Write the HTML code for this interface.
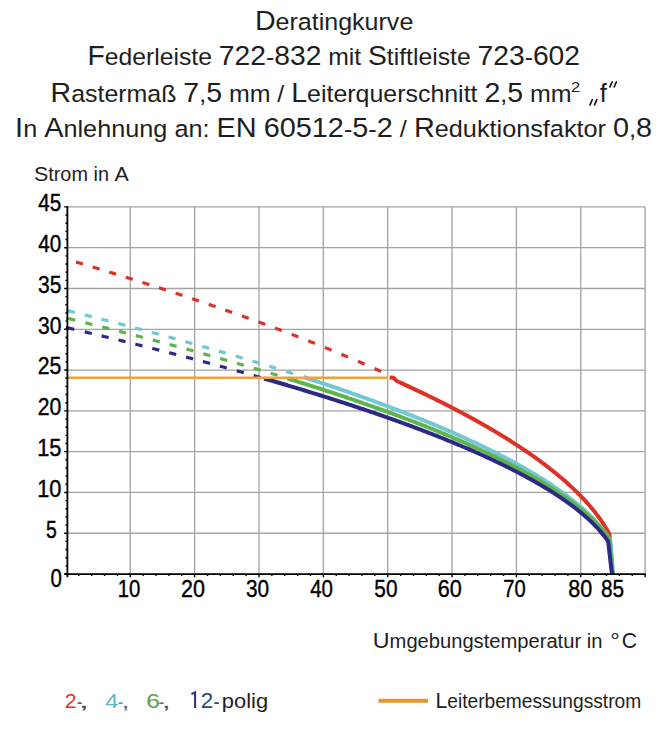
<!DOCTYPE html>
<html><head><meta charset="utf-8"><style>
html,body{margin:0;padding:0;background:#fff;}
svg{display:block;}
text{font-family:"Liberation Sans",sans-serif;fill:#1e1e1e;}
.ax{fill:#000;stroke:#000;stroke-width:0.4px;}
</style></head><body>
<svg width="669" height="740" viewBox="0 0 669 740">
<path d="M130.30,206.89V574.05 M194.65,206.89V574.05 M259.00,206.89V574.05 M323.35,206.89V574.05 M387.70,206.89V574.05 M452.05,206.89V574.05 M516.40,206.89V574.05 M580.75,206.89V574.05 M645.10,206.89V574.05 M67.4,533.25H645.10 M67.4,492.46H645.10 M67.4,451.66H645.10 M67.4,410.87H645.10 M67.4,370.07H645.10 M67.4,329.28H645.10 M67.4,288.48H645.10 M67.4,247.69H645.10 M67.4,206.89H645.10" stroke="#a3a3a3" stroke-width="1.3" fill="none"/>
<path d="M76.10,262.02 L77.25,262.36 L78.40,262.71 L79.55,263.05 L80.70,263.40 L81.85,263.74 L83.00,264.09 M92.68,267.00 L93.83,267.35 L94.98,267.70 L96.13,268.05 L97.28,268.40 L98.43,268.75 L99.58,269.10 M109.26,272.06 L110.41,272.42 L111.56,272.77 L112.71,273.13 L113.86,273.48 L115.01,273.84 L116.16,274.19 M125.84,277.21 L126.99,277.57 L128.14,277.93 L129.29,278.29 L130.44,278.65 L131.59,279.01 L132.74,279.37 M142.42,282.44 L143.57,282.80 L144.72,283.17 L145.87,283.54 L147.02,283.91 L148.17,284.27 L149.32,284.64 M159.00,287.76 L160.14,288.13 L161.28,288.50 L162.43,288.87 L163.57,289.24 L164.71,289.62 L165.85,289.99 M175.58,293.18 L176.72,293.56 L177.86,293.93 L179.01,294.31 L180.15,294.69 L181.29,295.07 L182.43,295.45 M192.16,298.70 L193.30,299.09 L194.44,299.47 L195.59,299.86 L196.73,300.24 L197.87,300.63 L199.01,301.01 M208.74,304.33 L209.88,304.72 L211.02,305.12 L212.17,305.51 L213.31,305.90 L214.45,306.30 L215.59,306.69 M225.32,310.08 L226.45,310.48 L227.59,310.87 L228.72,311.27 L229.85,311.67 L230.99,312.07 L232.12,312.47 M241.90,315.95 L243.03,316.35 L244.17,316.76 L245.30,317.17 L246.43,317.57 L247.57,317.98 L248.70,318.39 M258.48,321.95 L259.61,322.36 L260.75,322.78 L261.88,323.19 L263.01,323.61 L264.15,324.03 L265.28,324.45 M275.06,328.09 L276.19,328.51 L277.31,328.93 L278.44,329.35 L279.56,329.78 L280.69,330.20 L281.81,330.63 M291.64,334.38 L292.77,334.81 L293.89,335.24 L295.02,335.68 L296.14,336.11 L297.27,336.55 L298.39,336.98 M308.22,340.83 L309.34,341.27 L310.45,341.71 L311.57,342.16 L312.69,342.60 L313.80,343.04 L314.92,343.49 M324.80,347.46 L325.92,347.91 L327.03,348.37 L328.15,348.82 L329.27,349.28 L330.38,349.74 L331.50,350.19 M341.38,354.28 L342.49,354.75 L343.60,355.21 L344.71,355.68 L345.81,356.14 L346.92,356.61 L348.03,357.08 M357.96,361.32 L359.07,361.79 L360.18,362.27 L361.29,362.75 L362.39,363.23 L363.50,363.72 L364.61,364.20 M374.54,368.58 L375.64,369.07 L376.74,369.56 L377.84,370.05 L378.94,370.55 L380.04,371.04 L381.14,371.54" stroke="#dc3328" stroke-width="3.2" fill="none"/>
<path d="M389.63,377.42 L393.49,377.83 L396.71,381.00 L397.77,381.48 L398.84,381.96 L399.90,382.44 L400.96,382.93 L402.03,383.41 L403.09,383.90 L404.15,384.39 L405.22,384.88 L406.28,385.37 L407.34,385.86 L408.41,386.35 L409.47,386.84 L410.53,387.34 L411.60,387.84 L412.66,388.33 L413.72,388.83 L414.79,389.33 L415.85,389.83 L416.91,390.33 L417.98,390.84 L419.04,391.34 L420.10,391.85 L421.17,392.36 L422.23,392.86 L423.29,393.37 L424.36,393.89 L425.42,394.40 L426.48,394.91 L427.55,395.43 L428.61,395.94 L429.67,396.46 L430.74,396.98 L431.80,397.50 L432.86,398.02 L433.93,398.55 L434.99,399.07 L436.05,399.60 L437.12,400.13 L438.18,400.66 L439.24,401.19 L440.31,401.72 L441.37,402.25 L442.43,402.79 L443.50,403.32 L444.56,403.86 L445.62,404.40 L446.69,404.94 L447.75,405.49 L448.81,406.03 L449.88,406.58 L450.94,407.12 L452.00,407.67 L453.07,408.23 L454.13,408.78 L455.20,409.33 L456.26,409.89 L457.32,410.45 L458.39,411.01 L459.45,411.57 L460.51,412.13 L461.58,412.70 L462.64,413.26 L463.70,413.83 L464.77,414.40 L465.83,414.97 L466.89,415.55 L467.96,416.12 L469.02,416.70 L470.08,417.28 L471.15,417.86 L472.21,418.45 L473.27,419.03 L474.34,419.62 L475.40,420.21 L476.46,420.80 L477.53,421.40 L478.59,421.99 L479.65,422.59 L480.72,423.19 L481.78,423.79 L482.84,424.40 L483.91,425.00 L484.97,425.61 L486.03,426.23 L487.10,426.84 L488.16,427.46 L489.22,428.07 L490.29,428.70 L491.35,429.32 L492.41,429.94 L493.48,430.57 L494.54,431.20 L495.60,431.84 L496.67,432.47 L497.73,433.11 L498.79,433.75 L499.86,434.40 L500.92,435.04 L501.98,435.69 L503.05,436.34 L504.11,437.00 L505.17,437.66 L506.24,438.32 L507.30,438.98 L508.36,439.65 L509.43,440.32 L510.49,440.99 L511.55,441.67 L512.62,442.34 L513.68,443.03 L514.74,443.71 L515.81,444.40 L516.87,445.09 L517.93,445.79 L519.00,446.49 L520.06,447.19 L521.12,447.89 L522.19,448.60 L523.25,449.32 L524.32,450.03 L525.38,450.75 L526.44,451.48 L527.51,452.21 L528.57,452.94 L529.63,453.68 L530.70,454.42 L531.76,455.16 L532.82,455.91 L533.89,456.66 L534.95,457.42 L536.01,458.18 L537.08,458.95 L538.14,459.72 L539.20,460.50 L540.27,461.28 L541.33,462.07 L542.39,462.86 L543.46,463.65 L544.52,464.46 L545.58,465.26 L546.65,466.08 L547.71,466.89 L548.77,467.72 L549.84,468.55 L550.90,469.38 L551.96,470.22 L553.03,471.07 L554.09,471.93 L555.15,472.79 L556.22,473.65 L557.28,474.53 L558.34,475.41 L559.41,476.30 L560.47,477.19 L561.53,478.10 L562.60,479.01 L563.66,479.93 L564.72,480.86 L565.79,481.79 L566.85,482.74 L567.91,483.69 L568.98,484.66 L570.04,485.63 L571.10,486.61 L572.17,487.60 L573.23,488.61 L574.29,489.62 L575.36,490.65 L576.42,491.68 L577.48,492.73 L578.55,493.79 L579.61,494.87 L580.67,495.95 L581.74,497.06 L582.80,498.17 L583.86,499.30 L584.93,500.45 L585.99,501.61 L587.05,502.79 L588.12,503.99 L589.18,505.21 L590.24,506.45 L591.31,507.71 L592.37,508.99 L593.43,510.29 L594.50,511.62 L595.56,512.97 L596.63,514.36 L597.69,515.77 L598.75,517.21 L599.82,518.69 L600.88,520.21 L601.94,521.76 L603.01,523.36 L604.07,525.01 L605.13,526.70 L606.20,528.46 L607.26,530.28 L608.32,532.16 L609.39,534.14 L612.28,574.05" stroke="#dc3328" stroke-width="4" fill="none" stroke-linejoin="round"/>
<path d="M66.30,310.29 L67.73,310.65 L69.17,311.00 L70.60,311.36 L72.03,311.72 L73.47,312.08 L74.90,312.44 M84.70,314.90 L85.87,315.20 L87.03,315.49 L88.20,315.79 L89.37,316.08 L90.53,316.38 L91.70,316.68 M101.48,319.17 L102.65,319.47 L103.81,319.77 L104.98,320.07 L106.15,320.37 L107.31,320.67 L108.48,320.97 M118.26,323.51 L119.43,323.81 L120.59,324.12 L121.76,324.42 L122.93,324.73 L124.09,325.03 L125.26,325.34 M135.04,327.92 L136.21,328.23 L137.37,328.54 L138.54,328.85 L139.71,329.16 L140.87,329.47 L142.04,329.78 M151.82,332.40 L152.99,332.71 L154.15,333.03 L155.32,333.34 L156.49,333.66 L157.65,333.97 L158.82,334.29 M168.60,336.95 L169.76,337.27 L170.92,337.59 L172.08,337.91 L173.23,338.23 L174.39,338.55 L175.55,338.87 M185.38,341.59 L186.54,341.92 L187.70,342.24 L188.86,342.56 L190.01,342.89 L191.17,343.21 L192.33,343.54 M202.16,346.32 L203.32,346.65 L204.48,346.98 L205.64,347.31 L206.79,347.64 L207.95,347.97 L209.11,348.30 M218.94,351.13 L220.10,351.47 L221.26,351.80 L222.42,352.14 L223.57,352.48 L224.73,352.82 L225.89,353.16 M235.72,356.04 L236.88,356.39 L238.04,356.73 L239.20,357.07 L240.35,357.42 L241.51,357.76 L242.67,358.11 M252.50,361.06 L253.65,361.41 L254.80,361.76 L255.95,362.11 L257.10,362.45 L258.25,362.80 L259.40,363.15 M269.28,366.19 L270.43,366.54 L271.58,366.90 L272.73,367.25 L273.88,367.61 L275.03,367.97 L276.18,368.33 M286.06,371.43 L287.21,371.79 L288.36,372.16 L289.51,372.52 L290.66,372.89 L291.81,373.26 L292.96,373.62" stroke="#72c8d3" stroke-width="3.2" fill="none"/>
<path d="M303.40,376.98 L304.94,377.48 L306.47,377.98 L308.01,378.48 L309.54,378.98 L311.08,379.48 L312.61,379.99 L314.14,380.49 L315.68,381.00 L317.21,381.51 L318.75,382.02 L320.28,382.53 L321.82,383.04 L323.35,383.55 L324.89,384.07 L326.42,384.58 L327.96,385.10 L329.49,385.62 L331.03,386.13 L332.56,386.66 L334.10,387.18 L335.63,387.70 L337.17,388.22 L338.70,388.75 L340.24,389.28 L341.77,389.81 L343.30,390.34 L344.84,390.87 L346.37,391.40 L347.91,391.93 L349.44,392.47 L350.98,393.01 L352.51,393.54 L354.05,394.08 L355.58,394.63 L357.12,395.17 L358.65,395.71 L360.19,396.26 L361.72,396.81 L363.26,397.36 L364.79,397.91 L366.33,398.46 L367.86,399.01 L369.40,399.57 L370.93,400.12 L372.47,400.68 L374.00,401.24 L375.53,401.81 L377.07,402.37 L378.60,402.93 L380.14,403.50 L381.67,404.07 L383.21,404.64 L384.74,405.21 L386.28,405.79 L387.81,406.36 L389.35,406.94 L390.88,407.52 L392.42,408.10 L393.95,408.68 L395.49,409.27 L397.02,409.86 L398.56,410.44 L400.09,411.03 L401.63,411.63 L403.16,412.22 L404.69,412.82 L406.23,413.42 L407.76,414.02 L409.30,414.62 L410.83,415.23 L412.37,415.83 L413.90,416.44 L415.44,417.05 L416.97,417.67 L418.51,418.28 L420.04,418.90 L421.58,419.52 L423.11,420.14 L424.65,420.77 L426.18,421.39 L427.72,422.02 L429.25,422.66 L430.79,423.29 L432.32,423.93 L433.86,424.57 L435.39,425.21 L436.92,425.85 L438.46,426.50 L439.99,427.15 L441.53,427.80 L443.06,428.45 L444.60,429.11 L446.13,429.77 L447.67,430.43 L449.20,431.10 L450.74,431.77 L452.27,432.44 L453.81,433.11 L455.34,433.79 L456.88,434.47 L458.41,435.15 L459.95,435.84 L461.48,436.53 L463.02,437.22 L464.55,437.92 L466.08,438.62 L467.62,439.32 L469.15,440.03 L470.69,440.73 L472.22,441.45 L473.76,442.16 L475.29,442.88 L476.83,443.61 L478.36,444.33 L479.90,445.06 L481.43,445.80 L482.97,446.54 L484.50,447.28 L486.04,448.03 L487.57,448.78 L489.11,449.53 L490.64,450.29 L492.18,451.05 L493.71,451.82 L495.24,452.59 L496.78,453.37 L498.31,454.15 L499.85,454.93 L501.38,455.72 L502.92,456.52 L504.45,457.32 L505.99,458.12 L507.52,458.93 L509.06,459.75 L510.59,460.57 L512.13,461.39 L513.66,462.23 L515.20,463.06 L516.73,463.91 L518.27,464.76 L519.80,465.61 L521.34,466.47 L522.87,467.34 L524.41,468.21 L525.94,469.09 L527.47,469.98 L529.01,470.88 L530.54,471.78 L532.08,472.69 L533.61,473.60 L535.15,474.53 L536.68,475.46 L538.22,476.40 L539.75,477.35 L541.29,478.31 L542.82,479.27 L544.36,480.25 L545.89,481.23 L547.43,482.22 L548.96,483.23 L550.50,484.24 L552.03,485.27 L553.57,486.30 L555.10,487.35 L556.63,488.41 L558.17,489.48 L559.70,490.56 L561.24,491.66 L562.77,492.77 L564.31,493.89 L565.84,495.03 L567.38,496.18 L568.91,497.35 L570.45,498.53 L571.98,499.74 L573.52,500.96 L575.05,502.20 L576.59,503.45 L578.12,504.73 L579.66,506.04 L581.19,507.36 L582.73,508.71 L584.26,510.09 L585.80,511.49 L587.33,512.92 L588.86,514.39 L590.40,515.88 L591.93,517.42 L593.47,518.99 L595.00,520.60 L596.54,522.26 L598.07,523.97 L599.61,525.73 L601.14,527.56 L602.68,529.45 L604.21,531.42 L605.75,533.48 L607.28,535.64 L608.82,537.91 L610.35,540.32 L613.25,574.05" stroke="#72c8d3" stroke-width="4" fill="none" stroke-linejoin="round"/>
<path d="M66.30,318.09 L67.78,318.45 L69.27,318.81 L70.75,319.17 L72.23,319.54 L73.72,319.90 L75.20,320.27 M85.40,322.78 L86.57,323.07 L87.73,323.36 L88.90,323.65 L90.07,323.94 L91.23,324.23 L92.40,324.52 M102.24,326.99 L103.41,327.28 L104.57,327.58 L105.74,327.87 L106.91,328.17 L108.07,328.46 L109.24,328.76 M119.08,331.26 L120.25,331.56 L121.41,331.86 L122.58,332.16 L123.75,332.46 L124.91,332.76 L126.08,333.06 M135.92,335.60 L137.09,335.90 L138.25,336.21 L139.42,336.51 L140.59,336.81 L141.75,337.12 L142.92,337.42 M152.76,340.01 L153.93,340.32 L155.09,340.62 L156.26,340.93 L157.43,341.24 L158.59,341.55 L159.76,341.86 M169.60,344.49 L170.77,344.81 L171.93,345.12 L173.10,345.43 L174.27,345.75 L175.43,346.06 L176.60,346.38 M186.44,349.06 L187.60,349.37 L188.76,349.69 L189.92,350.01 L191.07,350.33 L192.23,350.64 L193.39,350.96 M203.28,353.70 L204.44,354.03 L205.60,354.35 L206.76,354.67 L207.91,355.00 L209.07,355.32 L210.23,355.65 M220.12,358.44 L221.28,358.77 L222.44,359.10 L223.60,359.43 L224.75,359.76 L225.91,360.09 L227.07,360.42 M236.96,363.27 L238.12,363.60 L239.28,363.94 L240.44,364.28 L241.59,364.61 L242.75,364.95 L243.91,365.29 M253.80,368.20 L254.96,368.54 L256.12,368.88 L257.28,369.23 L258.43,369.57 L259.59,369.92 L260.75,370.26 M270.64,373.23 L271.79,373.58 L272.94,373.93 L274.09,374.28 L275.24,374.63 L276.39,374.98 L277.54,375.33 M287.48,378.38 L288.63,378.74 L289.78,379.10 L290.93,379.45 L292.08,379.81 L293.23,380.17 L294.38,380.53" stroke="#5fb44e" stroke-width="3.2" fill="none"/>
<path d="M287.96,378.53 L289.56,379.03 L291.17,379.53 L292.78,380.03 L294.39,380.53 L295.99,381.03 L297.60,381.54 L299.21,382.04 L300.81,382.55 L302.42,383.06 L304.03,383.56 L305.64,384.07 L307.24,384.58 L308.85,385.10 L310.46,385.61 L312.06,386.13 L313.67,386.64 L315.28,387.16 L316.89,387.68 L318.49,388.20 L320.10,388.72 L321.71,389.24 L323.31,389.76 L324.92,390.29 L326.53,390.82 L328.14,391.34 L329.74,391.87 L331.35,392.40 L332.96,392.93 L334.56,393.47 L336.17,394.00 L337.78,394.54 L339.39,395.08 L340.99,395.61 L342.60,396.15 L344.21,396.70 L345.81,397.24 L347.42,397.78 L349.03,398.33 L350.64,398.88 L352.24,399.43 L353.85,399.98 L355.46,400.53 L357.06,401.08 L358.67,401.64 L360.28,402.20 L361.89,402.76 L363.49,403.32 L365.10,403.88 L366.71,404.44 L368.31,405.01 L369.92,405.57 L371.53,406.14 L373.14,406.71 L374.74,407.28 L376.35,407.86 L377.96,408.43 L379.56,409.01 L381.17,409.59 L382.78,410.17 L384.39,410.75 L385.99,411.34 L387.60,411.92 L389.21,412.51 L390.81,413.10 L392.42,413.70 L394.03,414.29 L395.64,414.89 L397.24,415.48 L398.85,416.08 L400.46,416.69 L402.06,417.29 L403.67,417.90 L405.28,418.50 L406.89,419.11 L408.49,419.73 L410.10,420.34 L411.71,420.96 L413.31,421.58 L414.92,422.20 L416.53,422.82 L418.14,423.45 L419.74,424.08 L421.35,424.71 L422.96,425.34 L424.56,425.98 L426.17,426.61 L427.78,427.25 L429.39,427.90 L430.99,428.54 L432.60,429.19 L434.21,429.84 L435.81,430.49 L437.42,431.15 L439.03,431.81 L440.64,432.47 L442.24,433.13 L443.85,433.80 L445.46,434.47 L447.06,435.14 L448.67,435.81 L450.28,436.49 L451.89,437.17 L453.49,437.86 L455.10,438.54 L456.71,439.23 L458.31,439.93 L459.92,440.62 L461.53,441.32 L463.14,442.03 L464.74,442.73 L466.35,443.44 L467.96,444.15 L469.56,444.87 L471.17,445.59 L472.78,446.31 L474.39,447.04 L475.99,447.77 L477.60,448.51 L479.21,449.25 L480.81,449.99 L482.42,450.74 L484.03,451.49 L485.64,452.24 L487.24,453.00 L488.85,453.76 L490.46,454.53 L492.06,455.30 L493.67,456.08 L495.28,456.86 L496.89,457.64 L498.49,458.43 L500.10,459.23 L501.71,460.03 L503.31,460.83 L504.92,461.64 L506.53,462.46 L508.14,463.28 L509.74,464.10 L511.35,464.94 L512.96,465.77 L514.56,466.62 L516.17,467.46 L517.78,468.32 L519.39,469.18 L520.99,470.05 L522.60,470.92 L524.21,471.80 L525.81,472.69 L527.42,473.58 L529.03,474.48 L530.64,475.39 L532.24,476.31 L533.85,477.23 L535.46,478.16 L537.06,479.10 L538.67,480.05 L540.28,481.00 L541.89,481.97 L543.49,482.94 L545.10,483.93 L546.71,484.92 L548.31,485.92 L549.92,486.94 L551.53,487.96 L553.14,488.99 L554.74,490.04 L556.35,491.10 L557.96,492.17 L559.56,493.25 L561.17,494.34 L562.78,495.45 L564.39,496.57 L565.99,497.71 L567.60,498.86 L569.21,500.03 L570.81,501.22 L572.42,502.42 L574.03,503.64 L575.64,504.88 L577.24,506.14 L578.85,507.42 L580.46,508.72 L582.06,510.05 L583.67,511.40 L585.28,512.77 L586.89,514.18 L588.49,515.61 L590.10,517.08 L591.71,518.58 L593.31,520.12 L594.92,521.69 L596.53,523.32 L598.14,524.98 L599.74,526.70 L601.35,528.48 L602.96,530.32 L604.56,532.23 L606.17,534.23 L607.78,536.31 L609.39,538.50 L612.60,574.05" stroke="#5fb44e" stroke-width="4" fill="none" stroke-linejoin="round"/>
<path d="M66.00,327.46 L67.37,327.78 L68.73,328.10 L70.10,328.42 L71.47,328.74 L72.83,329.06 L74.20,329.38 M84.70,331.86 L85.87,332.14 L87.05,332.42 L88.22,332.70 L89.40,332.97 L90.57,333.25 L91.75,333.53 M101.60,335.90 L102.77,336.18 L103.93,336.46 L105.10,336.74 L106.27,337.02 L107.43,337.30 L108.60,337.59 M118.50,340.00 L119.67,340.28 L120.83,340.57 L122.00,340.85 L123.17,341.14 L124.33,341.43 L125.50,341.71 M135.40,344.16 L136.57,344.45 L137.73,344.74 L138.90,345.03 L140.07,345.32 L141.23,345.62 L142.40,345.91 M152.30,348.40 L153.47,348.69 L154.63,348.99 L155.80,349.28 L156.97,349.58 L158.13,349.88 L159.30,350.17 M169.20,352.71 L170.37,353.01 L171.53,353.31 L172.70,353.61 L173.87,353.91 L175.03,354.21 L176.20,354.52 M186.10,357.10 L187.27,357.40 L188.43,357.71 L189.60,358.01 L190.77,358.32 L191.93,358.63 L193.10,358.94 M203.00,361.57 L204.17,361.88 L205.33,362.19 L206.50,362.50 L207.67,362.81 L208.83,363.13 L210.00,363.44 M219.90,366.12 L221.06,366.44 L222.22,366.75 L223.38,367.07 L224.53,367.39 L225.69,367.70 L226.85,368.02 M236.80,370.77 L237.96,371.09 L239.12,371.42 L240.28,371.74 L241.43,372.06 L242.59,372.39 L243.75,372.71 M253.70,375.52 L254.86,375.85 L256.02,376.18 L257.18,376.51 L258.33,376.84 L259.49,377.17 L260.65,377.50" stroke="#2c2a86" stroke-width="3.2" fill="none"/>
<path d="M264.15,378.51 L265.87,379.00 L267.59,379.50 L269.31,380.00 L271.03,380.50 L272.75,381.00 L274.47,381.50 L276.19,382.00 L277.91,382.51 L279.63,383.01 L281.35,383.52 L283.07,384.03 L284.79,384.53 L286.50,385.04 L288.22,385.56 L289.94,386.07 L291.66,386.58 L293.38,387.10 L295.10,387.61 L296.82,388.13 L298.54,388.65 L300.26,389.17 L301.98,389.69 L303.70,390.22 L305.42,390.74 L307.14,391.27 L308.86,391.79 L310.58,392.32 L312.30,392.85 L314.02,393.38 L315.74,393.92 L317.46,394.45 L319.18,394.99 L320.90,395.52 L322.62,396.06 L324.34,396.60 L326.06,397.15 L327.78,397.69 L329.50,398.23 L331.22,398.78 L332.94,399.33 L334.66,399.88 L336.38,400.43 L338.10,400.98 L339.82,401.53 L341.54,402.09 L343.26,402.65 L344.98,403.21 L346.70,403.77 L348.42,404.33 L350.14,404.89 L351.86,405.46 L353.58,406.03 L355.29,406.60 L357.01,407.17 L358.73,407.74 L360.45,408.32 L362.17,408.89 L363.89,409.47 L365.61,410.05 L367.33,410.63 L369.05,411.22 L370.77,411.80 L372.49,412.39 L374.21,412.98 L375.93,413.57 L377.65,414.16 L379.37,414.76 L381.09,415.36 L382.81,415.96 L384.53,416.56 L386.25,417.16 L387.97,417.77 L389.69,418.38 L391.41,418.99 L393.13,419.60 L394.85,420.22 L396.57,420.83 L398.29,421.45 L400.01,422.07 L401.73,422.70 L403.45,423.32 L405.17,423.95 L406.89,424.58 L408.61,425.22 L410.33,425.85 L412.05,426.49 L413.77,427.13 L415.49,427.78 L417.21,428.42 L418.93,429.07 L420.65,429.72 L422.37,430.38 L424.09,431.03 L425.80,431.69 L427.52,432.35 L429.24,433.02 L430.96,433.69 L432.68,434.36 L434.40,435.03 L436.12,435.71 L437.84,436.39 L439.56,437.07 L441.28,437.76 L443.00,438.45 L444.72,439.14 L446.44,439.83 L448.16,440.53 L449.88,441.24 L451.60,441.94 L453.32,442.65 L455.04,443.36 L456.76,444.08 L458.48,444.80 L460.20,445.52 L461.92,446.25 L463.64,446.98 L465.36,447.72 L467.08,448.45 L468.80,449.20 L470.52,449.94 L472.24,450.69 L473.96,451.45 L475.68,452.21 L477.40,452.97 L479.12,453.74 L480.84,454.51 L482.56,455.29 L484.28,456.07 L486.00,456.86 L487.72,457.65 L489.44,458.44 L491.16,459.24 L492.88,460.05 L494.60,460.86 L496.31,461.68 L498.03,462.50 L499.75,463.33 L501.47,464.16 L503.19,465.00 L504.91,465.85 L506.63,466.70 L508.35,467.56 L510.07,468.42 L511.79,469.29 L513.51,470.17 L515.23,471.05 L516.95,471.94 L518.67,472.84 L520.39,473.74 L522.11,474.65 L523.83,475.57 L525.55,476.50 L527.27,477.44 L528.99,478.38 L530.71,479.34 L532.43,480.30 L534.15,481.27 L535.87,482.25 L537.59,483.24 L539.31,484.24 L541.03,485.25 L542.75,486.27 L544.47,487.30 L546.19,488.34 L547.91,489.39 L549.63,490.46 L551.35,491.54 L553.07,492.63 L554.79,493.74 L556.51,494.86 L558.23,495.99 L559.95,497.14 L561.67,498.30 L563.39,499.48 L565.10,500.68 L566.82,501.90 L568.54,503.13 L570.26,504.39 L571.98,505.67 L573.70,506.96 L575.42,508.29 L577.14,509.63 L578.86,511.01 L580.58,512.41 L582.30,513.83 L584.02,515.30 L585.74,516.79 L587.46,518.32 L589.18,519.89 L590.90,521.51 L592.62,523.16 L594.34,524.87 L596.06,526.64 L597.78,528.47 L599.50,530.37 L601.22,532.34 L602.94,534.40 L604.66,536.57 L606.38,538.86 L608.10,541.29 L611.96,574.05" stroke="#2c2a86" stroke-width="4" fill="none" stroke-linejoin="round"/>
<path d="M67.4,377.66H387.38" stroke="#eea23e" stroke-width="2.5" fill="none"/>
<path d="M67.4,206.29V577.25 M64.4,574.05H645.70" stroke="#000" stroke-width="1.8" fill="none"/>
<path d="M64.2,574.05H67.4 M65.4,565.89H67.4 M65.4,557.73H67.4 M65.4,549.57H67.4 M65.4,541.41H67.4 M64.2,533.25H67.4 M65.4,525.10H67.4 M65.4,516.94H67.4 M65.4,508.78H67.4 M65.4,500.62H67.4 M64.2,492.46H67.4 M65.4,484.30H67.4 M65.4,476.14H67.4 M65.4,467.98H67.4 M65.4,459.82H67.4 M64.2,451.66H67.4 M65.4,443.51H67.4 M65.4,435.35H67.4 M65.4,427.19H67.4 M65.4,419.03H67.4 M64.2,410.87H67.4 M65.4,402.71H67.4 M65.4,394.55H67.4 M65.4,386.39H67.4 M65.4,378.23H67.4 M64.2,370.07H67.4 M65.4,361.92H67.4 M65.4,353.76H67.4 M65.4,345.60H67.4 M65.4,337.44H67.4 M64.2,329.28H67.4 M65.4,321.12H67.4 M65.4,312.96H67.4 M65.4,304.80H67.4 M65.4,296.64H67.4 M64.2,288.48H67.4 M65.4,280.33H67.4 M65.4,272.17H67.4 M65.4,264.01H67.4 M65.4,255.85H67.4 M64.2,247.69H67.4 M65.4,239.53H67.4 M65.4,231.37H67.4 M65.4,223.21H67.4 M65.4,215.05H67.4 M64.2,206.89H67.4 M78.82,574.05V576.05 M91.69,574.05V576.05 M104.56,574.05V576.05 M117.43,574.05V576.05 M130.30,574.05V577.35 M143.17,574.05V576.05 M156.04,574.05V576.05 M168.91,574.05V576.05 M181.78,574.05V576.05 M194.65,574.05V577.35 M207.52,574.05V576.05 M220.39,574.05V576.05 M233.26,574.05V576.05 M246.13,574.05V576.05 M259.00,574.05V577.35 M271.87,574.05V576.05 M284.74,574.05V576.05 M297.61,574.05V576.05 M310.48,574.05V576.05 M323.35,574.05V577.35 M336.22,574.05V576.05 M349.09,574.05V576.05 M361.96,574.05V576.05 M374.83,574.05V576.05 M387.70,574.05V577.35 M400.57,574.05V576.05 M413.44,574.05V576.05 M426.31,574.05V576.05 M439.18,574.05V576.05 M452.05,574.05V577.35 M464.92,574.05V576.05 M477.79,574.05V576.05 M490.66,574.05V576.05 M503.53,574.05V576.05 M516.40,574.05V577.35 M529.27,574.05V576.05 M542.14,574.05V576.05 M555.01,574.05V576.05 M567.88,574.05V576.05 M580.75,574.05V577.35 M593.62,574.05V576.05 M606.49,574.05V576.05 M619.36,574.05V576.05 M632.23,574.05V576.05 M645.10,574.05V577.35" stroke="#000" stroke-width="1.4" fill="none"/>
<text x="46.02" y="537.65" font-size="24" textLength="10.79" lengthAdjust="spacingAndGlyphs" class="ax">5</text>
<text x="37.14" y="496.86" font-size="24" textLength="24.21" lengthAdjust="spacingAndGlyphs" class="ax">10</text>
<text x="37.14" y="456.06" font-size="24" textLength="24.28" lengthAdjust="spacingAndGlyphs" class="ax">15</text>
<text x="37.73" y="415.27" font-size="24" textLength="23.60" lengthAdjust="spacingAndGlyphs" class="ax">20</text>
<text x="37.73" y="374.47" font-size="24" textLength="23.66" lengthAdjust="spacingAndGlyphs" class="ax">25</text>
<text x="38.00" y="333.68" font-size="24" textLength="23.32" lengthAdjust="spacingAndGlyphs" class="ax">30</text>
<text x="38.00" y="292.88" font-size="24" textLength="23.38" lengthAdjust="spacingAndGlyphs" class="ax">35</text>
<text x="38.33" y="252.09" font-size="24" textLength="22.98" lengthAdjust="spacingAndGlyphs" class="ax">40</text>
<text x="38.32" y="211.29" font-size="24" textLength="23.05" lengthAdjust="spacingAndGlyphs" class="ax">45</text>
<text x="50.50" y="587.00" font-size="25" textLength="11.40" lengthAdjust="spacingAndGlyphs" class="ax">0</text>
<text x="117.75" y="597.40" font-size="24.5" textLength="22.65" lengthAdjust="spacingAndGlyphs" class="ax">10</text>
<text x="181.02" y="597.40" font-size="24.5" textLength="23.92" lengthAdjust="spacingAndGlyphs" class="ax">20</text>
<text x="245.91" y="597.40" font-size="24.5" textLength="23.10" lengthAdjust="spacingAndGlyphs" class="ax">30</text>
<text x="310.13" y="597.40" font-size="24.5" textLength="22.77" lengthAdjust="spacingAndGlyphs" class="ax">40</text>
<text x="374.37" y="597.40" font-size="24.5" textLength="23.15" lengthAdjust="spacingAndGlyphs" class="ax">50</text>
<text x="437.70" y="597.40" font-size="24.5" textLength="24.04" lengthAdjust="spacingAndGlyphs" class="ax">60</text>
<text x="503.27" y="597.40" font-size="24.5" textLength="22.42" lengthAdjust="spacingAndGlyphs" class="ax">70</text>
<text x="568.26" y="597.40" font-size="24.5" textLength="23.98" lengthAdjust="spacingAndGlyphs" class="ax">80</text>
<text x="600.99" y="597.40" font-size="24.5" textLength="23.18" lengthAdjust="spacingAndGlyphs" class="ax">85</text>
<text x="254.95" y="29.50" textLength="158.36" lengthAdjust="spacingAndGlyphs"><tspan font-size="28">D</tspan><tspan font-size="24.5">eratingkurve</tspan></text>
<text x="87.58" y="64.90" textLength="492.44" lengthAdjust="spacingAndGlyphs"><tspan font-size="28">F</tspan><tspan font-size="24.5">ederleiste </tspan><tspan font-size="28">722</tspan><tspan font-size="24.5">-</tspan><tspan font-size="28">832</tspan><tspan font-size="24.5"> mit </tspan><tspan font-size="28">S</tspan><tspan font-size="24.5">tiftleiste </tspan><tspan font-size="28">723</tspan><tspan font-size="24.5">-</tspan><tspan font-size="28">602</tspan></text>
<text x="50.56" y="101.70" textLength="520.98" lengthAdjust="spacingAndGlyphs"><tspan font-size="28">R</tspan><tspan font-size="24.5">astermaß </tspan><tspan font-size="28">7</tspan><tspan font-size="24.5">,</tspan><tspan font-size="28">5</tspan><tspan font-size="24.5"> mm / </tspan><tspan font-size="28">L</tspan><tspan font-size="24.5">eiterquerschnitt </tspan><tspan font-size="28">2</tspan><tspan font-size="24.5">,</tspan><tspan font-size="28">5</tspan><tspan font-size="24.5"> mm</tspan></text>
<text x="570.97" y="92.30" font-size="14" textLength="9.16" lengthAdjust="spacingAndGlyphs">2</text>
<text x="599.84" y="101.50" font-size="25.5" textLength="7.13" lengthAdjust="spacingAndGlyphs">f</text>
<path d="M590.0,104.9L592.3,99.6M594.5,104.9L596.8,99.6M609.9,86.9L612.2,81.9M614.2,86.9L616.4,81.9" stroke="#1a1a1a" stroke-width="1.7" stroke-linecap="round" fill="none"/>
<text x="15.14" y="136.90" textLength="637.02" lengthAdjust="spacingAndGlyphs"><tspan font-size="28">I</tspan><tspan font-size="24.5">n </tspan><tspan font-size="28">A</tspan><tspan font-size="24.5">nlehnung an: </tspan><tspan font-size="28">EN</tspan><tspan font-size="24.5"> </tspan><tspan font-size="28">60512</tspan><tspan font-size="24.5">-</tspan><tspan font-size="28">5</tspan><tspan font-size="24.5">-</tspan><tspan font-size="28">2</tspan><tspan font-size="24.5"> / </tspan><tspan font-size="28">R</tspan><tspan font-size="24.5">eduktionsfaktor </tspan><tspan font-size="28">0</tspan><tspan font-size="24.5">,</tspan><tspan font-size="28">8</tspan></text>
<text x="33.93" y="181.00" textLength="94.81" lengthAdjust="spacingAndGlyphs"><tspan font-size="21">S</tspan><tspan font-size="19.5">trom in </tspan><tspan font-size="21">A</tspan></text>
<text x="372.81" y="648.40" textLength="229.60" lengthAdjust="spacingAndGlyphs"><tspan font-size="22.5">U</tspan><tspan font-size="19.5">mgebungstemperatur in</tspan></text>
<text x="610.18" y="648.40" font-size="21" textLength="9.56" lengthAdjust="spacingAndGlyphs">°</text>
<text x="621.73" y="648.40" font-size="22.5" textLength="15.28" lengthAdjust="spacingAndGlyphs">C</text>
<text x="64.73" y="708.00" font-size="21" textLength="11.84" lengthAdjust="spacingAndGlyphs" style="fill:#dc3328">2</text>
<text x="76.97" y="709.30" font-size="21" textLength="5.46" lengthAdjust="spacingAndGlyphs" style="fill:#a23a30">-</text>
<text x="78.52" y="708.00" font-size="21" textLength="10.76" lengthAdjust="spacingAndGlyphs" style="fill:#5a5050">,</text>
<text x="105.36" y="708.00" font-size="21" textLength="13.13" lengthAdjust="spacingAndGlyphs" style="fill:#5fb3c8">4</text>
<text x="117.52" y="709.30" font-size="21" textLength="5.87" lengthAdjust="spacingAndGlyphs" style="fill:#5a9fb5">-</text>
<text x="121.15" y="708.00" font-size="21" textLength="8.49" lengthAdjust="spacingAndGlyphs" style="fill:#6a7075">,</text>
<text x="146.16" y="708.00" font-size="21" textLength="13.62" lengthAdjust="spacingAndGlyphs" style="fill:#55a248">6</text>
<text x="158.42" y="709.30" font-size="21" textLength="5.87" lengthAdjust="spacingAndGlyphs" style="fill:#4f8a45">-</text>
<text x="161.67" y="708.00" font-size="21" textLength="9.06" lengthAdjust="spacingAndGlyphs" style="fill:#505a50">,</text>
<path d="M191.4,694.2L195.1,692.4V707.9" stroke="#2e2c82" stroke-width="2" fill="none"/>
<text x="200.67" y="707.90" font-size="22" textLength="12.45" lengthAdjust="spacingAndGlyphs" style="fill:#2c4678">2</text>
<text x="213.40" y="709.20" font-size="22" textLength="6.00" lengthAdjust="spacingAndGlyphs" style="fill:#2c4678">-</text>
<text x="221.89" y="708.20" font-size="19.5" textLength="46.22" lengthAdjust="spacingAndGlyphs">polig</text>
<path d="M378.4,700.7H428.1" stroke="#eb962c" stroke-width="4"/>
<text x="435.47" y="708.40" textLength="205.70" lengthAdjust="spacingAndGlyphs"><tspan font-size="21.5">L</tspan><tspan font-size="19.5">eiterbemessungsstrom</tspan></text>
</svg>
</body></html>
